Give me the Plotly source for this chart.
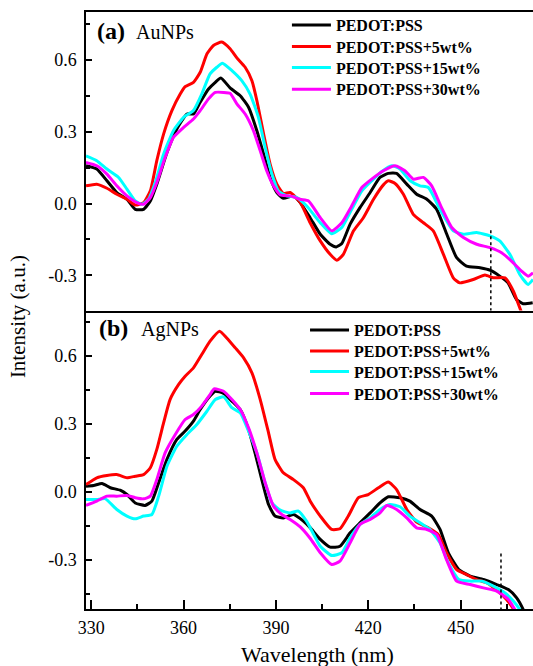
import plotly.graph_objects as go

# ---------------- data ----------------
series_names = ["PEDOT:PSS", "PEDOT:PSS+5wt%", "PEDOT:PSS+15wt%", "PEDOT:PSS+30wt%"]
series_colors = ["#000000", "#ff0000", "#00ffff", "#ff00ff"]

# Panel (a) AuNPs
wl_a_black = [328.3, 331.8, 335.1, 338.3, 341.6, 344.3, 347.0, 349.2, 351.3, 354.6, 357.8, 361.1, 363.2, 365.4,
              368.1, 370.3, 372.1, 375.1, 378.4, 381.1, 383.8, 386.0, 388.1, 390.3, 392.4, 395.7, 397.9, 401.1,
              404.4, 407.6, 409.6, 411.4, 414.1, 417.3, 420.6, 423.8, 426.5, 429.2, 432.5, 435.7, 439.0, 442.2,
              445.5, 448.7, 451.9, 456.3, 459.7, 462.7, 465.4, 468.1, 470.3, 473.4]
int_a_black = [0.158, 0.144, 0.095, 0.046, 0.018, -0.024, -0.024, 0.011, 0.081, 0.213, 0.311, 0.374, 0.374, 0.423,
               0.478, 0.506, 0.524, 0.483, 0.450, 0.402, 0.304, 0.206, 0.109, 0.046, 0.022, 0.032, 0.004, -0.059,
               -0.128, -0.170, -0.181, -0.167, -0.086, -0.017, 0.046, 0.109, 0.126, 0.126, 0.081, 0.039, 0.018, -0.024,
               -0.128, -0.226, -0.261, -0.268, -0.279, -0.303, -0.331, -0.400, -0.418, -0.414]

wl_a_red = [328.3, 331.8, 335.1, 338.3, 341.6, 344.3, 347.0, 349.2, 351.3, 353.5, 356.2, 358.9, 360.5, 363.2,
            365.4, 367.6, 369.7, 372.4, 375.1, 377.3, 380.0, 382.2, 383.8, 386.0, 388.1, 390.3, 392.4, 394.6,
            397.9, 401.1, 404.4, 407.6, 409.8, 411.9, 415.2, 418.4, 421.7, 424.9, 426.5, 428.7, 431.4, 434.6,
            437.9, 441.1, 444.4, 447.6, 449.7, 454.1, 457.9, 460.6, 464.4, 467.1, 469.8, 472.5]
int_a_red = [0.074, 0.081, 0.064, 0.039, 0.018, -0.006, 0.004, 0.053, 0.179, 0.290, 0.388, 0.457, 0.488, 0.506,
             0.548, 0.625, 0.660, 0.674, 0.646, 0.608, 0.569, 0.513, 0.430, 0.290, 0.165, 0.081, 0.042, 0.046,
             0.005, -0.080, -0.156, -0.212, -0.237, -0.212, -0.114, -0.059, 0.018, 0.078, 0.095, 0.084, 0.039, -0.045,
             -0.080, -0.114, -0.212, -0.310, -0.331, -0.317, -0.298, -0.310, -0.310, -0.365, -0.456, -0.550]

wl_a_cyan = [328.3, 331.8, 335.1, 338.9, 341.6, 344.3, 346.5, 348.6, 350.8, 353.5, 356.7, 360.0, 363.2, 365.9,
             368.6, 370.8, 372.6, 375.7, 378.9, 381.6, 384.3, 386.5, 388.7, 390.8, 393.5, 396.8, 400.0, 404.4,
             408.1, 411.4, 414.6, 417.9, 421.1, 424.4, 427.6, 430.3, 433.6, 436.8, 439.5, 443.3, 447.6, 450.9,
             455.2, 459.5, 462.7, 466.0, 469.2, 471.9, 473.5]
int_a_cyan = [0.199, 0.179, 0.144, 0.109, 0.060, 0.011, -0.003, 0.018, 0.088, 0.206, 0.304, 0.360, 0.388, 0.457,
              0.541, 0.569, 0.586, 0.555, 0.513, 0.457, 0.360, 0.234, 0.123, 0.053, 0.032, 0.025, -0.010, -0.080,
              -0.126, -0.100, -0.024, 0.053, 0.095, 0.134, 0.158, 0.144, 0.095, 0.074, 0.067, -0.024, -0.114, -0.128,
              -0.121, -0.135, -0.156, -0.212, -0.296, -0.338, -0.317]

wl_a_magenta = [328.3, 331.8, 335.1, 338.3, 341.6, 344.8, 347.0, 349.2, 351.3, 354.0, 356.7, 360.0, 363.2, 365.4,
                368.1, 370.3, 373.0, 375.1, 377.3, 380.0, 382.7, 384.9, 387.0, 389.2, 391.4, 394.6, 397.9, 400.6,
                404.4, 408.1, 411.4, 414.6, 417.9, 421.1, 424.9, 428.7, 431.9, 434.6, 437.9, 440.6, 443.8, 447.1,
                450.9, 455.2, 459.5, 463.3, 466.5, 469.8, 471.9, 473.5]
int_a_magenta = [0.172, 0.158, 0.123, 0.074, 0.032, 0.004, -0.003, 0.025, 0.088, 0.192, 0.276, 0.318, 0.353, 0.388,
                 0.437, 0.464, 0.464, 0.460, 0.416, 0.374, 0.304, 0.220, 0.137, 0.074, 0.036, 0.032, 0.018, 0.011,
                 -0.059, -0.114, -0.080, -0.010, 0.067, 0.102, 0.137, 0.158, 0.137, 0.102, 0.109, 0.074, -0.017, -0.100,
                 -0.142, -0.170, -0.184, -0.205, -0.240, -0.282, -0.303, -0.289]

# Panel (b) AgNPs
wl_b_black = [328.3, 330.8, 333.5, 336.2, 339.4, 341.6, 344.3, 347.5, 349.7, 351.9, 354.6, 357.8, 360.5, 363.2,
              365.4, 368.1, 370.3, 373.0, 375.7, 378.4, 381.1, 383.2, 385.4, 387.6, 389.7, 392.4, 395.7, 398.9,
              401.1, 404.4, 407.6, 410.8, 414.1, 417.3, 420.6, 423.8, 426.5, 430.3, 433.5, 436.8, 440.6, 443.3,
              446.0, 449.4, 453.1, 457.4, 461.7, 465.5, 468.2, 470.3, 472.0]
int_b_black = [0.025, 0.028, 0.037, 0.018, 0.007, -0.012, -0.049, -0.060, -0.041, 0.040, 0.143, 0.231, 0.268, 0.312,
               0.363, 0.415, 0.444, 0.434, 0.400, 0.363, 0.275, 0.172, 0.054, -0.056, -0.107, -0.115, -0.100, -0.129,
               -0.158, -0.210, -0.244, -0.240, -0.181, -0.137, -0.093, -0.049, -0.022, -0.026, -0.041, -0.078, -0.107,
               -0.166, -0.269, -0.343, -0.372, -0.387, -0.409, -0.431, -0.468, -0.519, -0.580]

wl_b_red = [328.3, 331.8, 335.1, 338.3, 341.6, 344.3, 347.0, 349.2, 351.3, 353.5, 355.6, 358.4, 360.5, 363.2,
            365.9, 368.6, 371.7, 374.0, 376.8, 379.5, 382.2, 384.9, 387.6, 389.7, 392.4, 395.7, 398.9, 401.1,
            404.4, 408.1, 410.8, 413.5, 416.8, 420.0, 423.3, 426.5, 429.2, 432.5, 435.7, 439.5, 442.7, 445.4,
            448.7, 451.9, 455.2, 458.4, 462.7, 464.9, 467.6, 470.0]
int_b_red = [0.032, 0.062, 0.072, 0.076, 0.062, 0.069, 0.076, 0.106, 0.187, 0.304, 0.407, 0.474, 0.510, 0.547,
             0.606, 0.665, 0.709, 0.679, 0.635, 0.591, 0.525, 0.407, 0.260, 0.143, 0.084, 0.054, 0.018, -0.040,
             -0.107, -0.166, -0.163, -0.107, -0.026, -0.012, 0.018, 0.043, 0.010, -0.078, -0.134, -0.159, -0.188,
             -0.269, -0.343, -0.365, -0.387, -0.401, -0.446, -0.475, -0.526, -0.580]

wl_b_cyan = [328.3, 331.8, 334.5, 338.3, 341.6, 344.3, 347.0, 349.7, 351.9, 354.6, 357.8, 361.1, 364.3, 367.6,
             370.3, 373.0, 375.7, 378.4, 381.1, 383.8, 386.5, 388.7, 391.4, 394.6, 397.3, 400.0, 404.4, 408.1,
             411.4, 414.1, 417.3, 420.6, 423.8, 427.0, 430.3, 433.5, 436.8, 440.0, 443.3, 446.0, 449.4, 453.1,
             456.9, 460.6, 464.4, 467.1, 469.2, 471.0]
int_b_cyan = [-0.034, -0.034, -0.030, -0.078, -0.107, -0.119, -0.107, -0.100, -0.019, 0.113, 0.201, 0.253, 0.297,
              0.356, 0.407, 0.419, 0.371, 0.349, 0.268, 0.172, 0.040, -0.049, -0.081, -0.093, -0.085, -0.130, -0.240,
              -0.281, -0.269, -0.203, -0.144, -0.115, -0.078, -0.056, -0.066, -0.107, -0.137, -0.166, -0.225, -0.313,
              -0.387, -0.394, -0.394, -0.416, -0.446, -0.482, -0.519, -0.560]

wl_b_magenta = [328.3, 331.8, 335.1, 338.3, 341.6, 344.3, 347.0, 349.2, 351.3, 354.0, 357.3, 360.5, 363.2, 365.9,
                368.6, 369.9, 373.0, 375.7, 378.4, 381.1, 383.8, 386.5, 389.2, 391.9, 394.6, 397.9, 401.1, 404.4,
                408.1, 410.8, 414.1, 417.3, 420.6, 423.8, 426.0, 429.2, 432.5, 435.7, 439.0, 442.2, 445.4, 448.7,
                453.1, 457.4, 461.7, 465.5, 467.6, 470.0]
int_b_magenta = [-0.060, -0.041, -0.019, -0.019, -0.016, -0.026, -0.031, -0.019, 0.054, 0.172, 0.253, 0.319, 0.341,
                 0.378, 0.429, 0.454, 0.444, 0.407, 0.363, 0.282, 0.172, 0.040, -0.063, -0.100, -0.122, -0.155, -0.205,
                 -0.269, -0.321, -0.306, -0.225, -0.144, -0.122, -0.093, -0.060, -0.078, -0.115, -0.159, -0.166,
                 -0.188, -0.299, -0.394, -0.409, -0.424, -0.438, -0.475, -0.519, -0.580]

# dotted reference markers (wavelength, top intensity) per panel
marker_wl = [459.8, 463.1]
marker_top = [-0.111, -0.272]
marker_bottom = [-0.60, -0.60]

# ticks
x_ticks = [330, 360, 390, 420, 450]
x_ticklabels = ["330", "360", "390", "420", "450"]
x_minor = [345, 375, 405, 435, 465]
y_ticks = [-0.3, 0.0, 0.3, 0.6]
y_ticklabels = ["-0.3", "0.0", "0.3", "0.6"]
y_minor = [-0.45, -0.15, 0.15, 0.45, 0.75]

x_range = [328.3, 473.5]
y_range_a = [-0.4464, 0.7996]
y_range_b = [-0.517, 0.800]

panel_labels = ["(a)", "(b)"]
panel_names = ["AuNPs", "AgNPs"]

# ---------------- figure ----------------
FONT = "Liberation Serif, Times New Roman, serif"
fig = go.Figure()

panel_a = [(wl_a_black, int_a_black), (wl_a_red, int_a_red), (wl_a_cyan, int_a_cyan), (wl_a_magenta, int_a_magenta)]
panel_b = [(wl_b_black, int_b_black), (wl_b_red, int_b_red), (wl_b_cyan, int_b_cyan), (wl_b_magenta, int_b_magenta)]

# one single-entry legend per series so rows can sit at the reference spacing
legend_x = [0.4495, 0.490]
legend_rows_a = [0.978, 0.942, 0.907, 0.8705]
legend_rows_b = [0.4673, 0.432, 0.3975, 0.361]

for i, (wx, wy) in enumerate(panel_a):
    fig.add_trace(go.Scatter(x=wx, y=wy, mode="lines", name=series_names[i],
                             line=dict(color=series_colors[i], width=3, shape="spline", smoothing=0.5),
                             xaxis="x", yaxis="y", legend="legend" if i == 0 else f"legend{i + 1}"))
for i, (wx, wy) in enumerate(panel_b):
    fig.add_trace(go.Scatter(x=wx, y=wy, mode="lines", name=series_names[i],
                             line=dict(color=series_colors[i], width=3, shape="spline", smoothing=0.5),
                             xaxis="x2", yaxis="y2", legend=f"legend{i + 5}"))

for k, (xa, ya) in enumerate([("x", "y"), ("x2", "y2")]):
    fig.add_trace(go.Scatter(x=[marker_wl[k], marker_wl[k]], y=[marker_top[k], marker_bottom[k]],
                             mode="lines", line=dict(color="black", width=1.5, dash="dot"),
                             showlegend=False, hoverinfo="skip", xaxis=xa, yaxis=ya))

axis_common = dict(showgrid=False, zeroline=False, showline=True, linecolor="black", linewidth=1.5)
tickfont = dict(family=FONT, size=18, color="black")

legend_font = dict(family=FONT, size=16, color="black", weight="bold")
legends = {}
for i in range(4):
    key_a = "legend" if i == 0 else f"legend{i + 1}"
    legends[key_a] = dict(x=legend_x[0], y=legend_rows_a[i], xanchor="left", yanchor="middle",
                          bgcolor="rgba(0,0,0,0)", itemwidth=39, font=legend_font, borderwidth=0)
    legends[f"legend{i + 5}"] = dict(x=legend_x[1], y=legend_rows_b[i], xanchor="left", yanchor="middle",
                                     bgcolor="rgba(0,0,0,0)", itemwidth=39, font=legend_font, borderwidth=0)

fig.update_layout(
    width=533, height=666,
    margin=dict(l=86, r=0, t=12, b=57),
    paper_bgcolor="white", plot_bgcolor="white",
    xaxis=dict(**axis_common, domain=[0, 1], anchor="y", range=x_range, mirror=True,
               showticklabels=False, ticks=""),
    yaxis=dict(**axis_common, domain=[0.5, 1], anchor="x", range=y_range_a,
               tickmode="array", tickvals=y_ticks, ticktext=y_ticklabels, ticks="inside",
               ticklen=6, tickwidth=1.5, tickcolor="black", tickfont=tickfont, ticklabelstandoff=4,
               minor=dict(tickmode="array", tickvals=y_minor, ticks="inside", ticklen=4,
                          tickwidth=1.5, tickcolor="black")),
    xaxis2=dict(**axis_common, domain=[0, 1], anchor="y2", range=x_range, mirror=False,
                tickmode="array", tickvals=x_ticks, ticktext=x_ticklabels, ticks="inside",
                ticklen=9, tickwidth=1.5, tickcolor="black", tickfont=tickfont, ticklabelstandoff=2,
                minor=dict(tickmode="array", tickvals=x_minor, ticks="inside", ticklen=5,
                           tickwidth=1.5, tickcolor="black")),
    yaxis2=dict(**axis_common, domain=[0, 0.5], anchor="x2", range=y_range_b,
                tickmode="array", tickvals=y_ticks, ticktext=y_ticklabels, ticks="inside",
                ticklen=6, tickwidth=1.5, tickcolor="black", tickfont=tickfont, ticklabelstandoff=4,
                minor=dict(tickmode="array", tickvals=y_minor, ticks="inside", ticklen=4,
                           tickwidth=1.5, tickcolor="black")),
    showlegend=True,
    **legends,
)

annotations = []
label_pos = [(0.020, 0.968), (0.024, 0.471)]
name_pos = [(0.107, 0.966), (0.1186, 0.469)]
for k in range(2):
    annotations.append(dict(text=panel_labels[k], xref="paper", yref="paper", x=label_pos[k][0], y=label_pos[k][1],
                            xanchor="left", yanchor="middle", showarrow=False,
                            font=dict(family=FONT, size=24, color="black", weight="bold")))
    annotations.append(dict(text=panel_names[k], xref="paper", yref="paper", x=name_pos[k][0], y=name_pos[k][1],
                            xanchor="left", yanchor="middle", showarrow=False,
                            font=dict(family=FONT, size=20, color="black")))
annotations.append(dict(text="Wavelength (nm)", xref="paper", yref="paper", x=0.517, y=-0.077,
                        xanchor="center", yanchor="middle", showarrow=False,
                        font=dict(family=FONT, size=22, color="black")))
annotations.append(dict(text="Intensity (a.u.)", xref="paper", yref="paper", x=-0.152, y=0.489,
                        xanchor="center", yanchor="middle", showarrow=False, textangle=-90,
                        font=dict(family=FONT, size=21, color="black")))
fig.update_layout(annotations=annotations)

fig.write_html("out.html", config={"displayModeBar": False},
               post_script="document.body.style.margin='0';document.body.style.overflow='hidden';")
